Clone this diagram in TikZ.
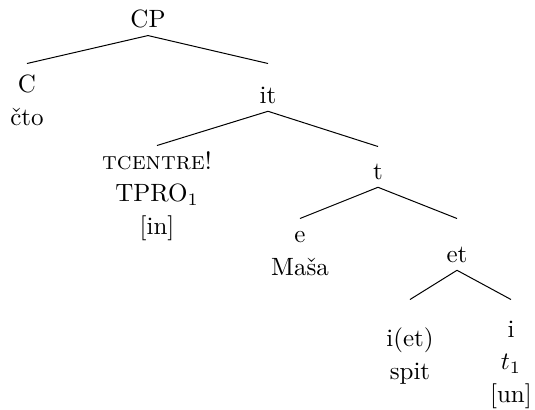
\documentclass[tikz,border=0pt]{standalone}
\usepackage{amsmath}
\usetikzlibrary{positioning}

\begin{document}
\begin{tikzpicture}
                [x=0.4pt, y=-0.4pt,
                tn/.style={anchor=base, inner sep=3pt, align=center,
                           font=\fontsize{10}{13}\selectfont},
                ]
                \useasboundingbox (0,0) rectangle (535,409);

                % root and first row (multi-line nodes sit on their last line)
                \node[tn] (CP) at (148,27) {CP};
                \node[tn, text height=21.4pt] (C) at (27,125) {C\\čto};
                \node[tn, text height=12.6pt] (it) at (268,103) {it};

                % second row
                \node[tn, text height=32.2pt] (tpro) at (157,234)
                    {\textsc{tcentre}!\\TPRO$_1$\\$[$in$]$};
                \node[tn, text height=9.8pt] (t) at (378,179) {t};

                % third row
                \node[tn, text height=19.4pt] (e) at (300,275) {e\\Maša};
                \node[tn, text height=14.2pt] (et) at (457,262) {et};

                % leaves
                \node[tn, text height=28.6pt] (iet) at (410,379) {i(et)\\spit};
                \node[tn, text height=37.8pt] (i) at (511,402)
                    {i\\$t_1$\\$[$un$]$};

                \draw (CP.south) -- (C.north);
                \draw (CP.south) -- (it.north);
                \draw (it.south) -- (tpro.north);
                \draw (it.south) -- (t.north);
                \draw (t.south) -- (e.north);
                \draw (t.south) -- (et.north);
                \draw (et.south) -- (iet.north);
                \draw (et.south) -- (i.north);
            \end{tikzpicture}
\end{document}
